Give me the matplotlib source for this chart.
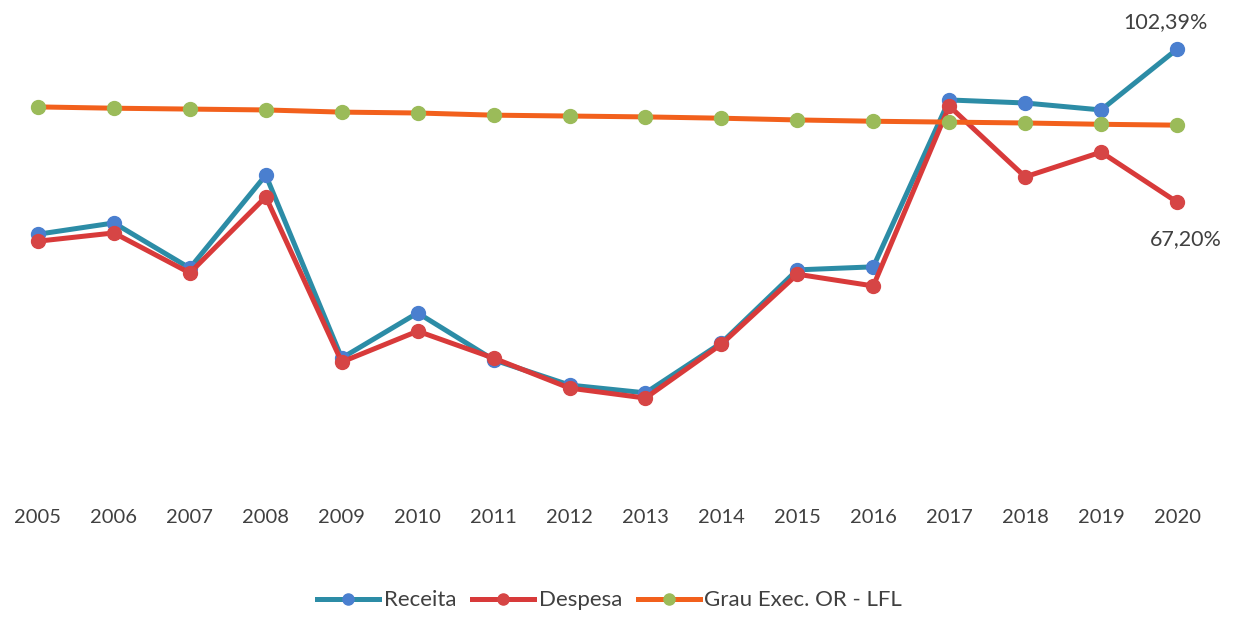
"""Receita / Despesa execution vs Grau Exec. OR - LFL, 2005-2020."""

import matplotlib
matplotlib.use("Agg")
import matplotlib.pyplot as plt

years = list(range(2005, 2021))

# values in %
receita = [59.8, 62.4, 52.0, 73.4, 31.3, 41.7, 30.9, 25.1, 23.3, 34.8,
           51.6, 52.3, 90.7, 90.0, 88.4, 102.39]
despesa = [58.2, 60.1, 50.9, 68.4, 30.4, 37.5, 31.3, 24.4, 22.1, 34.5,
           50.6, 47.9, 89.3, 73.0, 78.7, 67.20]
grau = [89.1, 88.8, 88.6, 88.4, 87.9, 87.7, 87.2, 87.0, 86.8, 86.5,
        86.1, 85.8, 85.6, 85.4, 85.1, 84.9]

labels = ["Receita", "Despesa", "Grau Exec. OR - LFL"]
last_labels = ["102,39%", "67,20%"]

plt.rcParams["font.family"] = ["Lato", "DejaVu Sans"]
TXT = "#404040"

fig = plt.figure(figsize=(12.34, 6.17), dpi=100)
fig.patch.set_facecolor("white")
ax = fig.add_axes([0.0, 0.19, 1.0, 0.81])

lw = 3.6
ms = 10
ax.plot(years, receita, color="#2C8CA6", lw=lw, marker="o", ms=ms,
        mfc="#4A7FCF", mec="#4A7FCF", label=labels[0], zorder=2)
ax.plot(years, despesa, color="#D83A3A", lw=lw, marker="o", ms=ms,
        mfc="#D64545", mec="#D64545", label=labels[1], zorder=3)
ax.plot(years, grau, color="#F2601C", lw=lw, marker="o", ms=ms,
        mfc="#9BBB59", mec="#9BBB59", label=labels[2], zorder=4)

ax.annotate(last_labels[0], (years[-1], receita[-1]), xytext=(-8.5, 19.5),
            textcoords="offset points", ha="center", va="center",
            fontsize=15.5, color=TXT)
ax.annotate(last_labels[1], (years[-1], despesa[-1]), xytext=(6, -26.5),
            textcoords="offset points", ha="center", va="center",
            fontsize=15.5, color=TXT)

ax.set_xlim(2004.5, 2020.75)
ax.set_ylim(-1.3, 113.7)
ax.set_xticks(years)
ax.set_xticklabels([str(y) for y in years], fontsize=14.5, color=TXT)
ax.set_yticks([])
ax.tick_params(axis="x", length=0, pad=7)
for spine in ax.spines.values():
    spine.set_visible(False)

fig.legend(loc="center", bbox_to_anchor=(0.494, 0.027), ncol=3,
           frameon=False, fontsize=16, handlelength=2.8, markerscale=0.8,
           handletextpad=0.2, columnspacing=0.7, labelcolor=TXT)

fig.savefig("out.png", dpi=100, facecolor="white")
